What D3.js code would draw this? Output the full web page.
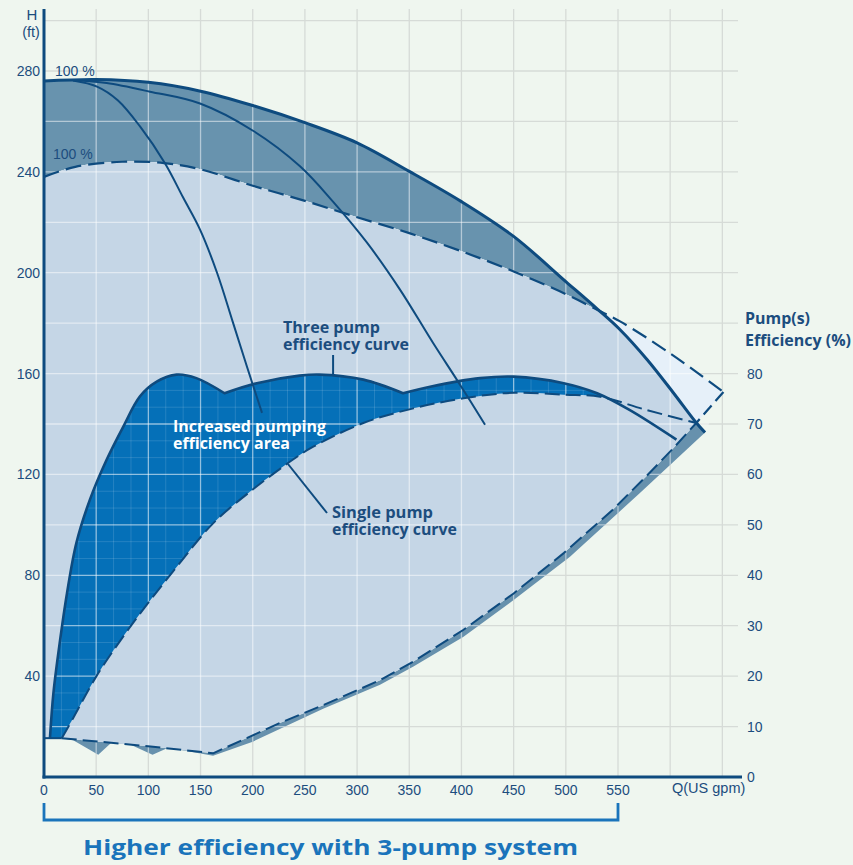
<!DOCTYPE html>
<html>
<head>
<meta charset="utf-8">
<script src="https://cdn.jsdelivr.net/npm/d3@7"></script>
<style>
html,body{margin:0;padding:0;background:#eff6ef;}
svg{display:block;font-family:"Liberation Sans",Arial,sans-serif;}
</style>
</head>
<body>
<div id="chart"></div>
<script>
// ---- data (Q in US gpm, H in ft, efficiency in %) ----
const qTicks = [0, 50, 100, 150, 200, 250, 300, 350, 400, 450, 500, 550];
const hTicks = [40, 80, 120, 160, 200, 240, 280];
const effTicks = [0, 10, 20, 30, 40, 50, 60, 70, 80];

// head curves
const threePumpHead = [[0,276],[50,276.6],[100,275.5],[150,272],[200,266.3],[250,259.5],[300,251.5],[350,240.2],[400,228.2],[450,214.4],[500,196.5],[530,185.7],[552,177.4],[578,165.5],[603,152.4],[624,141],[633.4,136.6]];
const reducedHead = [[0,238],[30,242],[75,244],[115,243.5],[150,241],[200,234.5],[250,228.5],[300,222],[350,215.7],[400,208.5],[450,200.5],[500,191.5],[530,185.3],[552,180.7],[600,168],[651,152.7]];
const onePumpHead = [[27.8,276.2],[50.8,273.8],[70.9,268.3],[92,258],[115.9,243.4],[133.2,229.9],[149.5,217.1],[165.8,200],[181.1,180.2],[194.5,162.7],[208.9,144.4]];
const twoPumpHead = [[28,276.3],[60,275.2],[101.6,271.8],[149.5,267.1],[200.3,256.3],[245.3,242.2],[276.9,228.2],[309.5,211.9],[341.1,193.3],[372.7,172.2],[398.6,155.6],[422.6,139.7]];

// efficiency curves (three pump curve has three humps)
const threePumpEffA = [[5.7,7.7],[9,16.6],[15,26.5],[22,36.4],[31,46.4],[44,55],[60,62.9],[76,69.5],[92,75.5],[108,78.4],[127,79.8],[146,79.1],[173,76.1]];
const threePumpEffB = [[173,76.1],[204,78.1],[245,79.6],[264,79.8],[306,78.8],[344,76.1]];
const threePumpEffC = [[344,76.1],[370,77.4],[418,79.1],[450,79.4],[498,78.1],[530,76.1],[561,72.8],[606,66.9]];
const singlePumpEff = [[17,7.7],[28,11.7],[50,19.9],[76,27.9],[102,35.1],[130,42.4],[162,50.3],[200,57],[239,63],[258,65.5],[306,70.2],[354,73.1],[402,75.1],[450,76.2],[498,75.8],[533,75.4],[577,72.8],[625,70.2]];
const lowerBoundary = [[0,7.7],[17,7.7],[104.5,6],[162,4.7],[226,10.7],[268,14.3],[322,19.2],[354,22.9],[402,29.2],[450,36.4],[498,44.4],[545,53],[577,59.6],[603,65.2],[625,70.2]];
const shadowEdge = [[28,7.3],[52,4.4],[65,6.9],[82,6.5],[104,4.4],[119,5.8],[162,4.2],[200,7],[268,13.6],[322,18.3],[354,21.9],[402,27.8],[450,35.1],[504,43.7],[571,56.3],[633.4,68.3]];

// ---- layout ----
const W = 853, H = 865;
const x = d3.scaleLinear().domain([0, 550]).range([44, 618]);
const yH = d3.scaleLinear().domain([0, 280]).range([777, 71]);
const yE = d3.scaleLinear().domain([0, 140]).range([777, 71]);

const navy = "#0e4b7f", textCol = "#1c4d7e", blue = "#1a74bb";

const svg = d3.select("#chart").append("svg").attr("width", W).attr("height", H);
svg.append("rect").attr("width", W).attr("height", H).attr("fill", "#eff6ef");
const defs = svg.append("defs");

const smoothH = d3.line().x(d => x(d[0])).y(d => yH(d[1])).curve(d3.curveCatmullRom.alpha(0.5));
const smoothE = d3.line().x(d => x(d[0])).y(d => yE(d[1])).curve(d3.curveCatmullRom.alpha(0.5));
const straightE = d3.line().x(d => x(d[0])).y(d => yE(d[1]));
const rev = a => a.slice().reverse();
const pt = (q, py) => `M${x(q)},${py}`;
// glue several path strings into one continuous outline
const joinPaths = (parts, close) => parts.map((p, i) => i ? p.replace(/^M/, "L") : p).join("") + (close ? "Z" : "");

const threeEffPath = joinPaths([smoothE(threePumpEffA), smoothE(threePumpEffB), smoothE(threePumpEffC)], false);
const tip = singlePumpEff[singlePumpEff.length - 1];
const headEnd = threePumpHead[threePumpHead.length - 1];
const dashEnd = reducedHead[reducedHead.length - 1];
const last3 = threePumpEffC[threePumpEffC.length - 1];

// outlines of the filled areas
const lightestArea = joinPaths([smoothH(reducedHead), pt(tip[0], yE(tip[1]))], true);
const lightArea = joinPaths([
  pt(0, yE(lowerBoundary[0][1])),
  smoothH(reducedHead),
  pt(tip[0], yE(tip[1])),
  straightE(rev(lowerBoundary))
], true);
const betweenHeads = joinPaths([smoothH(threePumpHead), smoothH(rev(reducedHead))], true);
const shadowArea = joinPaths([straightE(lowerBoundary.slice(1)), straightE(rev(shadowEdge))], true);
const darkArea = joinPaths([threeEffPath, pt(last3[0], yE(0)), pt(threePumpEffA[0][0], yE(0))], true);
const underTopHead = joinPaths([
  smoothH(threePumpHead),
  pt(headEnd[0], yH(-30)),
  pt(0, yH(-30))
], true);
const aboveDashed = joinPaths([
  smoothH(reducedHead),
  pt(dashEnd[0], yH(400)),
  pt(0, yH(400))
], true);
const aboveSingle = joinPaths([
  smoothE(singlePumpEff),
  pt(tip[0], yE(160)),
  pt(0, yE(160)),
  pt(0, yE(singlePumpEff[0][1]))
], true);

defs.append("clipPath").attr("id", "underTop").append("path").attr("d", underTopHead);
defs.append("clipPath").attr("id", "aboveDashed").append("path").attr("d", aboveDashed);
defs.append("clipPath").attr("id", "aboveSingle").append("path").attr("d", aboveSingle);
defs.append("clipPath").attr("id", "underThree").append("path").attr("d", darkArea);
const fillClip = defs.append("clipPath").attr("id", "filled");
[betweenHeads, lightestArea, lightArea, shadowArea].forEach(d => fillClip.append("path").attr("d", d));

// ---- grid ----
const gridQ = d3.range(50, 651, 50);
const gridH = d3.range(20, 301, 20);
function drawGrid(g, color, width, opacity) {
  g.selectAll(".vg").data(gridQ).join("line").attr("class", "vg")
    .attr("x1", d => x(d)).attr("x2", d => x(d)).attr("y1", yH(0)).attr("y2", 9)
    .attr("stroke", color).attr("stroke-width", width).attr("opacity", opacity);
  g.selectAll(".hg").data(gridH).join("line").attr("class", "hg")
    .attr("x1", x(0)).attr("x2", 738).attr("y1", d => yH(d)).attr("y2", d => yH(d))
    .attr("stroke", color).attr("stroke-width", width).attr("opacity", opacity);
}
drawGrid(svg.append("g"), "#d6dbd7", 1.3, 1);

// ---- fills ----
svg.append("path").attr("d", shadowArea).attr("fill", "#6791ad");
svg.append("path").attr("d", underTopHead).attr("fill", "#6893ae").attr("clip-path", "url(#aboveDashed)");
svg.append("path").attr("d", lightestArea).attr("fill", "#e6f0f9");
svg.append("path").attr("d", lightArea).attr("fill", "#c5d6e6").attr("clip-path", "url(#underTop)");

const darkG = svg.append("g").attr("clip-path", "url(#aboveSingle)");
darkG.append("path").attr("d", darkArea).attr("fill", "#0570b8");
// fine grid inside the efficiency area
const fineG = darkG.append("g").attr("clip-path", "url(#underThree)");
fineG.selectAll("line.fv").data(d3.range(0, 650, 50 / 3)).join("line").attr("class", "fv")
  .attr("x1", d => x(d)).attr("x2", d => x(d)).attr("y1", yH(0)).attr("y2", yH(200))
  .attr("stroke", "#ffffff").attr("stroke-width", 1).attr("opacity", 0.13);
fineG.selectAll("line.fh").data(d3.range(0, 200, 20 / 3)).join("line").attr("class", "fh")
  .attr("x1", x(0)).attr("x2", x(650)).attr("y1", d => yH(d)).attr("y2", d => yH(d))
  .attr("stroke", "#ffffff").attr("stroke-width", 1).attr("opacity", 0.13);

drawGrid(svg.append("g").attr("clip-path", "url(#filled)"), "#ffffff", 1.3, 0.5);

// ---- curves ----
const stroke = (d, w, dash) => svg.append("path").attr("d", d).attr("fill", "none")
  .attr("stroke", navy).attr("stroke-width", w).attr("stroke-dasharray", dash || null)
  .attr("stroke-linejoin", "round");

stroke(straightE(lowerBoundary.slice(0, 2)), 2);
stroke(straightE(lowerBoundary.slice(1)), 2, "15,6");
stroke(smoothE(singlePumpEff), 2, "15,6");
stroke(threeEffPath, 2.6);
stroke(smoothH(onePumpHead), 2);
stroke(smoothH(twoPumpHead), 2);
stroke(smoothH(reducedHead), 2.2, "16,7");
stroke(`M${x(dashEnd[0])},${yH(dashEnd[1])}L${x(tip[0])},${yE(tip[1])}`, 2.2, "12,6");
stroke(smoothH(threePumpHead), 3);

// leader lines
svg.append("line").attr("x1", x(277)).attr("x2", x(277)).attr("y1", 355).attr("y2", yE(79.8))
  .attr("stroke", navy).attr("stroke-width", 2);
svg.append("line").attr("x1", 288).attr("y1", 464).attr("x2", 327).attr("y2", 513)
  .attr("stroke", navy).attr("stroke-width", 2);

// ---- axes ----
svg.append("line").attr("x1", x(0)).attr("x2", x(0)).attr("y1", 9).attr("y2", yH(0) + 1.5)
  .attr("stroke", navy).attr("stroke-width", 3);
svg.append("line").attr("x1", x(0) - 1.5).attr("x2", 742).attr("y1", yH(0)).attr("y2", yH(0))
  .attr("stroke", navy).attr("stroke-width", 3);

// one <text>, one <tspan> per line
function label(lines, px, py, opts = {}) {
  const t = svg.append("text")
    .attr("fill", opts.fill || textCol)
    .attr("font-size", opts.size || 14)
    .attr("font-weight", opts.weight || null)
    .attr("font-family", opts.family || null)
    .attr("text-anchor", opts.anchor || "start");
  [].concat(lines).forEach((s, i) => {
    const sp = t.append("tspan").text(s).attr("x", px).attr("y", py + i * (opts.gap || 0));
    if (opts.len) sp.attr("textLength", opts.len[i]).attr("lengthAdjust", "spacingAndGlyphs");
  });
  return t;
}

svg.append("g").selectAll("text").data(hTicks).join("text")
  .text(d => d).attr("x", 40).attr("y", d => yH(d)).attr("dy", "0.36em")
  .attr("text-anchor", "end").attr("font-size", 14).attr("fill", textCol);
svg.append("g").selectAll("text").data(effTicks).join("text")
  .text(d => d).attr("x", 747).attr("y", d => yE(d)).attr("dy", "0.36em")
  .attr("font-size", 14).attr("fill", textCol);
svg.append("g").selectAll("text").data(qTicks).join("text")
  .text(d => d).attr("x", d => x(d)).attr("y", 795)
  .attr("text-anchor", "middle").attr("font-size", 14).attr("fill", textCol);

label("H", 32, 20, {anchor: "middle", size: 15});
label("(ft)", 31, 37, {anchor: "middle", size: 14.5});
label("Q(US gpm)", 672, 793, {size: 14.5});
label("100 %", 55, 76);
label("100 %", 53, 159);

const bold = "'Open Sans', 'Noto Sans', sans-serif";
label(["Pump(s)", "Efficiency (%)"], 745, 324, {size: 16, weight: 700, family: bold, gap: 22, len: [65, 106]});
label(["Three pump", "efficiency curve"], 283, 333, {size: 15.5, weight: 700, family: bold, gap: 17, len: [97, 126]});
label(["Increased pumping", "efficiency area"], 173, 432, {size: 15.5, weight: 700, family: bold, gap: 17, len: [153, 117], fill: "#ffffff"});
label(["Single pump", "efficiency curve"], 332, 518, {size: 15.5, weight: 700, family: bold, gap: 17, len: [101, 125]});

// ---- bracket and caption ----
svg.append("path").attr("d", `M${x(0)},803V820H${x(550)}V803`).attr("fill", "none")
  .attr("stroke", blue).attr("stroke-width", 2.8);
label("Higher efficiency with 3-pump system", 83, 855, {size: 21, weight: 700, family: bold, len: [495], fill: blue});
</script>
</body>
</html>
